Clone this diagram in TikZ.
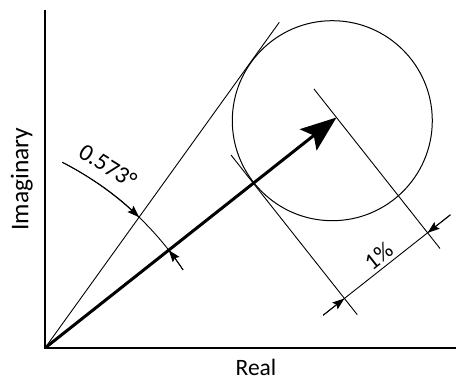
\documentclass[tikz,border=0pt]{standalone}
\usepackage{fontspec}
\setmainfont{Carlito}
\usetikzlibrary{arrows.meta,calc}
\begin{document}
\begin{tikzpicture}[x=1pt,y=-1pt,
  axisline/.style={line width=1.5pt},
  thinline/.style={line width=0.9pt},
  vecline/.style={line width=3pt,-{Stealth[length=36pt,width=27pt,inset=7pt]}},
  dimarrow/.style={line width=0.9pt,-{Stealth[length=12pt,width=8.5pt,inset=2pt]}},
  lbl/.style={font=\fontsize{23.5}{27}\selectfont, inner sep=0pt}]
\path[use as bounding box] (0,0) rectangle (459,379);
% key points
\coordinate (O) at (45,348);
\coordinate (Ytop) at (45,10);
\coordinate (Xend) at (456,348);
\coordinate (T) at (336.5,117.5);
\coordinate (Tan) at (279.3,22.3);
\coordinate (C) at (332.3,120.7);
\coordinate (E1a) at (313.9,88.9);
\coordinate (E1b) at (440,248.5);
\coordinate (E2a) at (231,155);
\coordinate (E2b) at (357.2,314.6);
\coordinate (D1) at (344.4,298.5);
\coordinate (D2) at (427.6,232.8);
\coordinate (D1o) at (323.2,315.2);
\coordinate (D2o) at (450.4,214.8);
\coordinate (K) at (-84,448);
% axes
\draw[axisline] (Ytop) -- (O) -- (Xend);
% circle
\draw[line width=1pt] (C) circle[radius=100];
% tangent line
\draw[thinline] (O) -- (Tan);
% vector
\draw[vecline] (O) -- (T);
% extension lines
\draw[thinline] (E1a) -- (E1b);
\draw[thinline] (E2a) -- (E2b);
% dimension line
\draw[thinline] (D1o) -- (D2o);
\draw[dimarrow] (D1o) -- (D1);
\draw[dimarrow] (D2o) -- (D2);
% angle arc
\draw[thinline] (K) ++(-62.9:321) arc[start angle=-62.9, end angle=-33.7, radius=321];
\draw[dimarrow] (K) ++(-62.9:321) arc[start angle=-62.9, end angle=-45.97, radius=321];
\draw[dimarrow] (K) ++(-33.7:321) arc[start angle=-33.7, end angle=-38.05, radius=321];
% labels
\node[lbl, rotate=38.3] (pct) at (378.6,256.2) {1\%};
\node[lbl, font=\fontsize{24}{28}\selectfont, rotate=-32] (ang) at (108,166) {0.573°};
\node[lbl, anchor=base] (re) at (256,375.5) {Real};
\node[lbl, font=\fontsize{25.5}{29}\selectfont, anchor=base, rotate=90] (im) at (28.3,179) {Imaginary};
\end{tikzpicture}
\end{document}
